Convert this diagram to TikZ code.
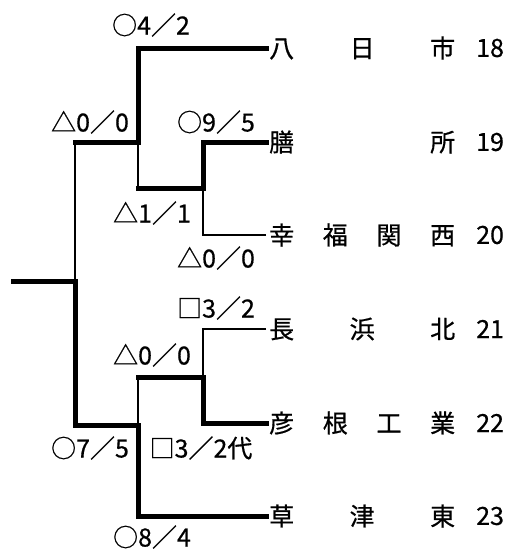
\documentclass[tikz,border=0pt]{standalone}
\usepackage{fontspec}
\setmainfont{Noto Sans CJK JP}[FakeBold=0.6]
\begin{document}
\begin{tikzpicture}[x=1pt,y=-1pt,
  win/.style={line width=5pt,line join=miter,line cap=rect},
  lose/.style={line width=1.6pt,line join=miter},
  team/.style={anchor=west,inner xsep=3pt,inner ysep=0pt,font=\fontsize{25}{30}\selectfont},
  num/.style={anchor=west,inner sep=0pt,font=\fontsize{25}{30}\selectfont},
  score/.style={inner sep=0pt,font=\fontsize{25}{30}\selectfont}]
\useasboundingbox (0,0) rectangle (515,557);
% teams
\node[team] (t1) at (266,48)  {\makebox[186pt][s]{八\hfill 日\hfill 市}};
\node[team] (t2) at (266,142) {\makebox[186pt][s]{膳\hfill 所}};
\node[team] (t3) at (266,235) {\makebox[186pt][s]{幸\hfill 福\hfill 関\hfill 西}};
\node[team] (t4) at (266,329) {\makebox[186pt][s]{長\hfill 浜\hfill 北}};
\node[team] (t5) at (266,423) {\makebox[186pt][s]{彦\hfill 根\hfill 工\hfill 業}};
\node[team] (t6) at (266,516) {\makebox[186pt][s]{草\hfill 津\hfill 東}};
\node[num] (n1) at (476,48)  {18};
\node[num] (n2) at (476,142) {19};
\node[num] (n3) at (476,235) {20};
\node[num] (n4) at (476,329) {21};
\node[num] (n5) at (476,423) {22};
\node[num] (n6) at (476,516) {23};
% junctions
\coordinate (a) at (203,188);
\coordinate (b) at (138,142);
\coordinate (d) at (203,377);
\coordinate (e) at (138,425);
\coordinate (c) at (75,281);
\coordinate (root) at (13,281);
% upper
\draw[win] (t2.west) -| (a);
\draw[lose] (t3.west) -| (a);
\draw[win] (t1.west) -| (b);
\draw[win] (a) -- (a -| b);
\draw[lose] (a -| b) -- (b);
\draw[win] (b) -- (b -| c);
\draw[lose] (b -| c) -- (c);
% lower
\draw[lose] (t4.west) -| (d);
\draw[win] (t5.west) -| (d);
\draw[win] (d) -- (d -| e);
\draw[lose] (d -| e) -- (e);
\draw[win] (t6.west) -| (e);
\draw[win] (e) -| (c);
\draw[win] (c) -- (root);
% scores
\node[score] (s1) at (151,25)  {○4／2};
\node[score] (s2) at (90,122)  {△0／0};
\node[score] (s3) at (216,122) {○9／5};
\node[score] (s4) at (152,213) {△1／1};
\node[score] (s5) at (216,258) {△0／0};
\node[score] (s6) at (216,308) {□3／2};
\node[score] (s7) at (152,355) {△0／0};
\node[score] (s8) at (90,448)  {○7／5};
\node[score] (s9) at (201,448) {□3／2代};
\node[score] (s10) at (152,537) {○8／4};
\end{tikzpicture}
\end{document}
